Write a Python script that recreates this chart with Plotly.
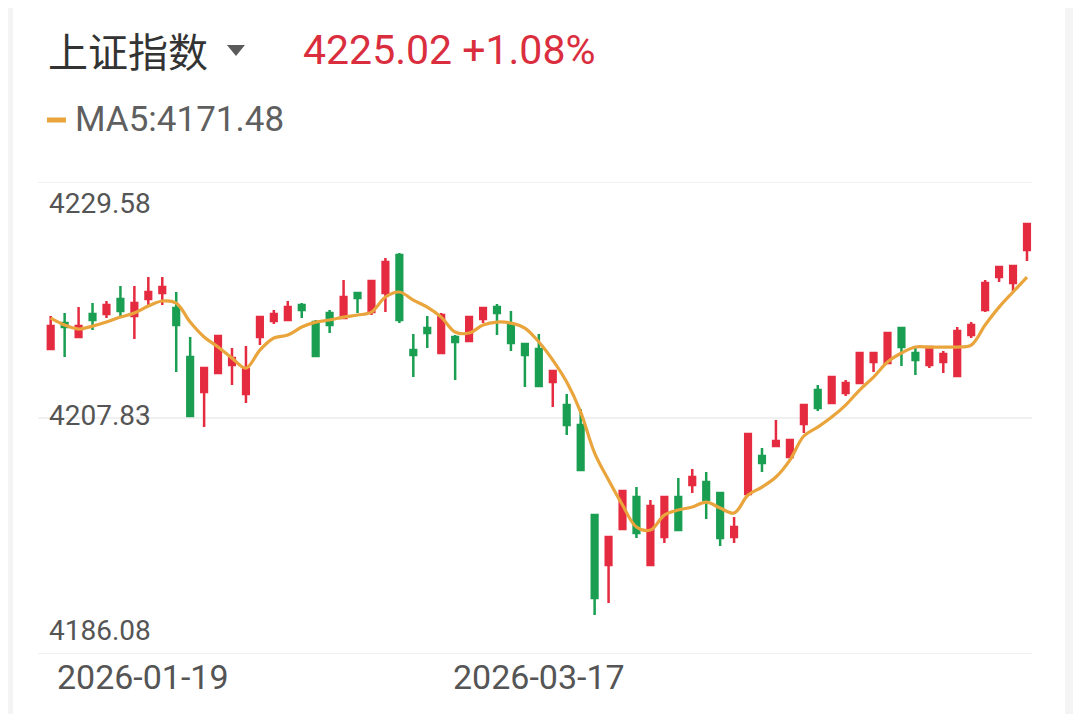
import plotly.graph_objects as go

# 上证指数 日K
opens = [4214.18, 4216.58, 4215.29, 4217.41, 4217.41, 4218.79, 4217.23, 4218.79, 4219.35, 4217.96,
         4213.45, 4210.22, 4211.97, 4212.71, 4210.04, 4215.29, 4216.76, 4216.86, 4218.24, 4216.67,
         4217.50, 4217.04, 4219.35, 4217.59, 4219.35, 4222.85, 4214.09, 4216.12, 4213.82, 4215.29,
         4214.92, 4216.95, 4218.05, 4216.40, 4214.64, 4214.18, 4211.14, 4209.02, 4207.18, 4198.88,
         4194.28, 4197.59, 4200.54, 4194.28, 4196.86, 4200.54, 4201.65, 4201.93, 4200.91, 4196.86,
         4200.82, 4204.32, 4205.24, 4204.23, 4207.27, 4210.41, 4209.21, 4210.13, 4211.05, 4212.99,
         4212.89, 4216.12, 4213.82, 4212.71, 4212.99, 4211.70, 4215.47, 4217.78, 4220.82, 4220.27,
         4223.31]
highs = [4217.23, 4217.50, 4218.05, 4218.42, 4218.61, 4219.99, 4219.99, 4220.82, 4220.82, 4219.44,
         4215.29, 4212.53, 4215.47, 4214.28, 4214.46, 4217.20, 4217.78, 4218.61, 4218.42, 4216.86,
         4217.78, 4220.54, 4219.44, 4220.54, 4222.57, 4223.03, 4215.57, 4217.23, 4217.50, 4215.47,
         4217.23, 4218.05, 4218.33, 4217.69, 4214.74, 4215.57, 4212.20, 4210.04, 4208.65, 4198.98,
         4196.95, 4201.20, 4201.46, 4200.27, 4200.63, 4202.30, 4203.12, 4202.85, 4201.00, 4198.70,
         4206.44, 4205.06, 4207.64, 4205.90, 4209.11, 4210.87, 4211.70, 4211.33, 4213.91, 4213.91,
         4215.75, 4216.21, 4214.37, 4214.46, 4214.00, 4216.21, 4216.67, 4220.54, 4221.83, 4221.92,
         4225.80]
lows = [4214.09, 4213.45, 4215.20, 4215.94, 4217.04, 4217.13, 4215.11, 4218.05, 4218.24, 4212.06,
        4207.92, 4207.00, 4211.88, 4210.87, 4209.21, 4214.55, 4216.49, 4216.76, 4217.04, 4213.45,
        4215.66, 4216.95, 4217.50, 4217.32, 4217.59, 4216.58, 4211.60, 4214.28, 4213.72, 4211.33,
        4214.83, 4216.58, 4215.47, 4214.00, 4210.68, 4210.68, 4208.84, 4206.26, 4202.95, 4189.67,
        4190.77, 4197.50, 4196.77, 4194.20, 4196.30, 4197.41, 4200.91, 4198.52, 4196.03, 4196.30,
        4200.73, 4202.85, 4205.15, 4204.14, 4206.44, 4208.47, 4209.11, 4209.85, 4210.96, 4212.06,
        4212.80, 4212.62, 4211.79, 4212.43, 4211.97, 4211.60, 4215.20, 4217.59, 4220.36, 4219.53,
        4222.29]
closes = [4216.30, 4216.21, 4216.30, 4216.86, 4218.24, 4217.69, 4218.42, 4219.44, 4219.90, 4216.40,
          4208.01, 4212.43, 4215.38, 4213.35, 4212.34, 4217.13, 4217.41, 4218.05, 4217.78, 4213.54,
          4216.40, 4218.98, 4218.88, 4220.45, 4222.20, 4216.86, 4213.63, 4215.66, 4217.32, 4214.83,
          4217.13, 4217.96, 4217.50, 4214.74, 4213.63, 4210.77, 4212.16, 4207.18, 4203.03, 4191.23,
          4196.86, 4201.10, 4197.23, 4199.71, 4200.54, 4197.50, 4202.39, 4200.27, 4196.77, 4197.78,
          4206.35, 4203.68, 4205.70, 4205.80, 4209.02, 4208.75, 4211.60, 4211.05, 4213.82, 4213.82,
          4215.66, 4214.37, 4213.17, 4214.37, 4213.72, 4215.84, 4216.40, 4220.27, 4221.74, 4221.83,
          4225.71]
ma5 = [4217.04, 4216.40, 4216.03, 4216.30, 4216.67, 4217.13, 4217.50, 4218.15, 4218.61, 4218.42,
       4216.67, 4215.29, 4214.37, 4213.35, 4212.43, 4214.09, 4215.20, 4215.47, 4216.21, 4216.67,
       4216.86, 4217.13, 4217.32, 4217.59, 4218.98, 4219.44, 4218.70, 4218.05, 4217.13, 4215.75,
       4215.66, 4216.40, 4216.67, 4216.58, 4216.12, 4214.83, 4213.17, 4211.14, 4208.38, 4204.60,
       4202.11, 4199.81, 4197.78, 4197.50, 4198.88, 4199.35, 4199.62, 4200.08, 4199.53, 4199.07,
       4200.73, 4201.46, 4202.39, 4203.95, 4206.17, 4206.99, 4207.92, 4209.02, 4210.41, 4211.60,
       4212.99, 4213.82, 4214.37, 4214.37, 4214.37, 4214.37, 4214.55, 4216.40, 4218.05, 4219.44,
       4220.82]

y_ticks = [4186.08, 4207.83, 4229.58]
x_ticks = [6.6, 35]
x_tick_labels = ['2026-01-19', '2026-03-17']

index_name = '上证指数'
last_price = 4225.02
change_pct = 1.08
ma5_last = 4171.48

rouge = '#E52B3F'
vert = '#199E52'
orange = '#E9A43C'
gris = '#555555'

x = list(range(len(closes)))

fig = go.Figure()
fig.add_trace(go.Candlestick(
    x=x, open=opens, high=highs, low=lows, close=closes,
    increasing=dict(line=dict(color=rouge, width=2.5), fillcolor=rouge),
    decreasing=dict(line=dict(color=vert, width=2.5), fillcolor=vert),
    whiskerwidth=0, hoverinfo='skip'))
fig.add_trace(go.Scatter(x=x, y=ma5, mode='lines',
                         line=dict(color=orange, width=3.2, shape='spline'),
                         hoverinfo='skip'))

# la page a une marge de 8 px : positions en pixels de la page,
# zone de tracé 38..1032 x 182..654
def px_x(p):
    return (p - 38) / 994

def px_y(p):
    return (654 - p) / 472

annotations = [
    dict(text=index_name, x=px_x(46), y=px_y(50), xanchor='left', yanchor='middle',
         font=dict(family='Noto Sans CJK SC', size=40, color='#333333')),
    dict(text=f'{last_price:.2f} +{change_pct:.2f}%', x=px_x(301), y=px_y(50),
         xanchor='left', yanchor='middle',
         font=dict(family='Roboto', size=41, color='#DA2E3E')),
    dict(text=f'MA5:{ma5_last:.2f}', x=px_x(73), y=px_y(120), xanchor='left', yanchor='middle',
         font=dict(family='Roboto', size=35, color='#5f5f5f')),
]
# étiquettes de l'axe y à l'intérieur
for v, ya, ys in zip(y_ticks, ['bottom', 'middle', 'top'], [5, 3, -3]):
    annotations.append(dict(text=f'{v:.2f}', x=px_x(47), y=v, xref='paper', yref='y',
                            xanchor='left', yanchor=ya, yshift=ys, showarrow=False,
                            font=dict(family='Roboto', size=28, color=gris)))
for a in annotations:
    a.setdefault('xref', 'paper')
    a.setdefault('yref', 'paper')
    a['showarrow'] = False

# petit triangle du menu déroulant
tri = 'M {:.4f} {:.4f} L {:.4f} {:.4f} L {:.4f} {:.4f} Z'.format(
    px_x(227), px_y(45), px_x(245), px_y(45), px_x(236), px_y(56))

shapes = [
    dict(type='path', xref='paper', yref='paper', path=tri,
         fillcolor='#5a5a5a', line=dict(width=0)),
    dict(type='line', xref='paper', yref='paper', x0=px_x(47), x1=px_x(66),
         y0=px_y(120), y1=px_y(120), line=dict(color=orange, width=5)),
    dict(type='rect', xref='paper', yref='paper', x0=px_x(0), x1=px_x(13),
         y0=px_y(714), y1=px_y(0), fillcolor='#F4F4F4', line=dict(width=0), layer='below'),
    dict(type='rect', xref='paper', yref='paper', x0=px_x(1065), x1=px_x(1081),
         y0=px_y(714), y1=px_y(0), fillcolor='#F4F4F4', line=dict(width=0), layer='below'),
]
# lignes de grille horizontales
for v in y_ticks:
    shapes.append(dict(type='line', xref='paper', yref='y', x0=0, x1=1, y0=v, y1=v,
                       line=dict(color='#EBEBEB', width=1.5), layer='below'))

fig.update_layout(
    width=1073, height=706,
    margin=dict(l=30, r=49, t=174, b=60),
    paper_bgcolor='white', plot_bgcolor='white',
    showlegend=False, boxgap=0.42,
    annotations=annotations, shapes=shapes,
    xaxis=dict(range=[-0.91, 70.36], tickvals=x_ticks, ticktext=x_tick_labels,
               showgrid=False, zeroline=False, showline=False, ticks='',
               tickfont=dict(family='Roboto', size=34, color=gris),
               rangeslider=dict(visible=False), fixedrange=True),
    yaxis=dict(range=[y_ticks[0], y_ticks[-1]], showticklabels=False,
               showgrid=False, zeroline=False, showline=False, ticks='', fixedrange=True),
)

fig.write_html('out.html')
print('out.html généré avec succès !')
